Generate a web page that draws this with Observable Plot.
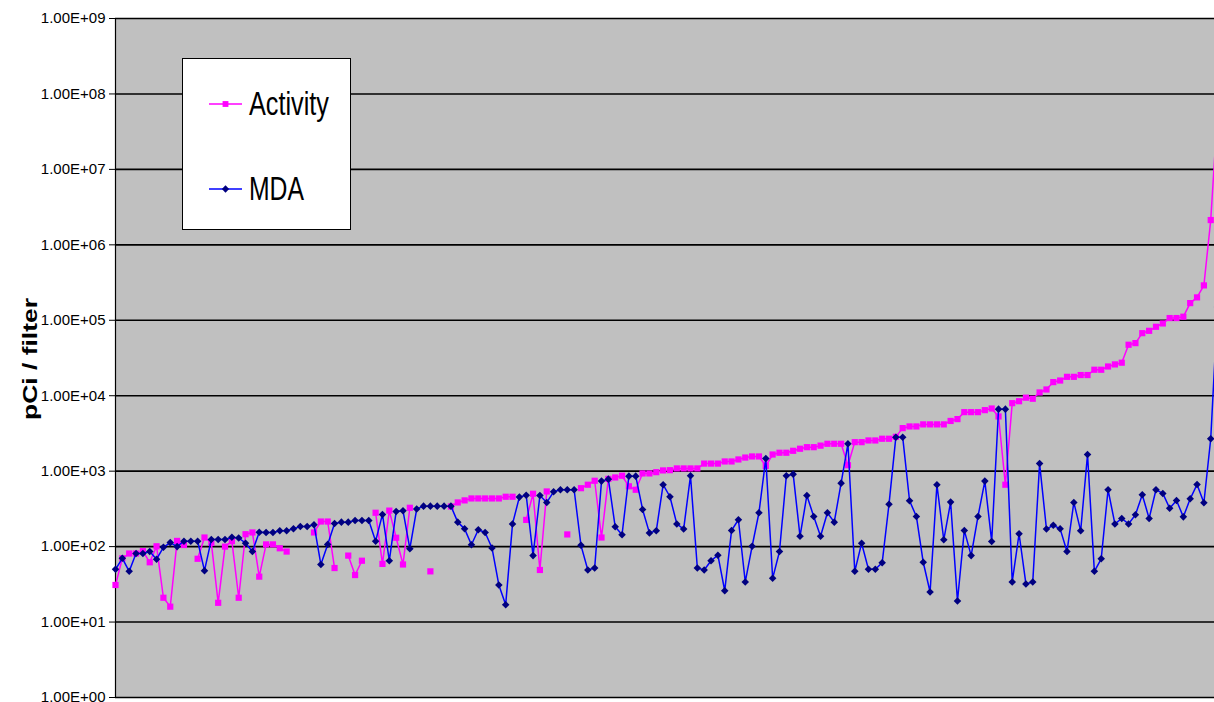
<!DOCTYPE html>
<html><head><meta charset="utf-8">
<script src="https://cdn.jsdelivr.net/npm/d3@7"></script>
<script src="https://cdn.jsdelivr.net/npm/@observablehq/plot@0.6"></script>
<style>
html,body{margin:0;padding:0;background:#fff;overflow:hidden;}
#chart{position:relative;width:1214px;height:702px;overflow:hidden;}
</style></head><body><div id="chart"></div>
<script>
// Activity (pCi / filter) per sample, null = no value
const activity = [31,70,81,81,87,62,101,21,16,119,105,null,69,132,112,18,100,118,21,146,
154,40,107,107,95,86,null,null,null,154,215,215,52,null,76,42,65,null,281,59,
300,131,58,327,null,null,47,null,null,340,385,410,435,435,435,435,435,458,458,null,
226,502,49,538,null,null,145,null,595,661,746,132,790,825,870,630,567,933,933,970,
1023,1030,1087,1087,1087,1087,1260,1260,1260,1345,1345,1430,1515,1567,1567,1176,1663,1755,1755,1862,
1983,2080,2080,2180,2307,2307,2307,1200,2425,2425,2553,2553,2690,2690,2850,3720,3915,3915,4170,4170,
4170,4170,4630,4900,6060,6060,6060,6440,6770,5310,661,7970,8460,9420,9120,11050,12100,15150,15900,17800,
17800,18800,18800,22100,22100,24400,26000,27400,47400,49800,67500,72500,82000,90800,107000,107000,111500,169000,201000,290000,
2130000,60000000];
// MDA (pCi / filter) per sample
const mda = [50,70,47,81,81,86,68,98,113,100,118,118,118,48,124,124,124,133,130,111,
86,155,154,154,162,162,172,185,185,195,58,107,203,211,211,222,222,222,118,267,
65,292,299,94,315,344,344,344,344,344,211,172,106,167,154,96,31,17,200,453,
479,76,476,385,533,567,567,567,104,49,52,738,784,183,144,859,859,311,152,162,
661,458,200,171,869,52,49,65,77,26,164,227,34,101,281,1470,38,86,869,913,
137,476,251,137,281,211,694,2307,47,111,50,50,61,365,2820,2820,405,251,62,25,
661,123,389,19,164,76,251,738,117,6640,6640,34,148,32,34,1260,171,192,172,86,
385,162,1663,47,69,567,200,236,200,265,486,236,567,507,323,409,248,430,666,381,
2690,150000];
const seriesNames = ["Activity", "MDA"];
const tickValues = [1, 10, 100, 1e3, 1e4, 1e5, 1e6, 1e7, 1e8, 1e9];
const tickLabels = ["1.00E+00","1.00E+01","1.00E+02","1.00E+03","1.00E+04","1.00E+05","1.00E+06","1.00E+07","1.00E+08","1.00E+09"];
const yTitle = "pCi / filter";

const sampleIndex = activity.map((_, i) => i);
const actData = sampleIndex.map(i => ({i, v: activity[i] ?? NaN}));
const mdaData = sampleIndex.map(i => ({i, v: mda[i] ?? NaN}));
const labelOf = new Map(tickValues.map((v, k) => [v, tickLabels[k]]));

const chart = Plot.plot({
  width: 1214, height: 702,
  marginLeft: 115, marginRight: 0, marginTop: 18, marginBottom: 5,
  style: {fontFamily: "'Liberation Sans', Arial, sans-serif", background: "#fff", overflow: "hidden", color: "#000"},
  x: {type: "linear", domain: [0, 160.55], axis: null},
  y: {type: "log", domain: [1, 1e9], axis: null},
  marks: [
    Plot.frame({fill: "#C0C0C0", stroke: null}),
    Plot.ruleY(tickValues, {stroke: "#000", strokeWidth: 1.6}),
    Plot.axisY({ticks: tickValues, tickFormat: d => labelOf.get(d), tickSize: 6, tickPadding: 4, fontSize: 15, label: null, stroke: "#000", color: "#000"}),
    Plot.ruleX([0], {stroke: "#000", strokeWidth: 1.2}),
    Plot.line(actData, {x: "i", y: "v", stroke: "#FF00FF", strokeWidth: 1.5, clip: true}),
    Plot.dot(actData, {x: "i", y: "v", symbol: "square", r: 3.5, fill: "#FF00FF", stroke: null}),
    Plot.line(mdaData, {x: "i", y: "v", stroke: "#0000FF", strokeWidth: 1.5, clip: true}),
    Plot.dot(mdaData, {x: "i", y: "v", symbol: "diamond2", r: 3.4, fill: "#000080", stroke: null})
  ]
});
document.getElementById("chart").appendChild(chart);

const svg = d3.select(chart);
// y-axis title
svg.append("text")
  .attr("transform", "translate(37,359) rotate(-90)")
  .attr("text-anchor", "middle")
  .attr("font-family", "'Liberation Sans', Arial, sans-serif")
  .attr("font-weight", "bold")
  .attr("font-size", 20)
  .attr("textLength", 122)
  .attr("lengthAdjust", "spacingAndGlyphs")
  .attr("fill", "#000")
  .text(yTitle);

// legend
const lg = svg.append("g");
lg.append("rect").attr("x", 182.5).attr("y", 58.5).attr("width", 168).attr("height", 171)
  .attr("fill", "#fff").attr("stroke", "#000").attr("stroke-width", 1);
const items = [
  {name: seriesNames[0], y: 104, line: "#FF00FF", mark: "#FF00FF", sym: d3.symbolSquare, size: 34, len: 80},
  {name: seriesNames[1], y: 189, line: "#0000FF", mark: "#000080", sym: d3.symbolDiamond2, size: 34, len: 55}
];
for (const it of items) {
  lg.append("line").attr("x1", 209).attr("x2", 242).attr("y1", it.y).attr("y2", it.y)
    .attr("stroke", it.line).attr("stroke-width", 1.5);
  lg.append("path").attr("d", d3.symbol(it.sym, it.size)()).attr("transform", `translate(225.5,${it.y})`)
    .attr("fill", it.mark);
  lg.append("text").attr("x", 249).attr("y", it.y + 11)
    .attr("text-anchor", "start")
    .attr("font-family", "'Liberation Sans', Arial, sans-serif")
    .attr("font-size", 33).attr("textLength", it.len).attr("lengthAdjust", "spacingAndGlyphs")
    .attr("fill", "#000").text(it.name);
}
</script></body></html>
